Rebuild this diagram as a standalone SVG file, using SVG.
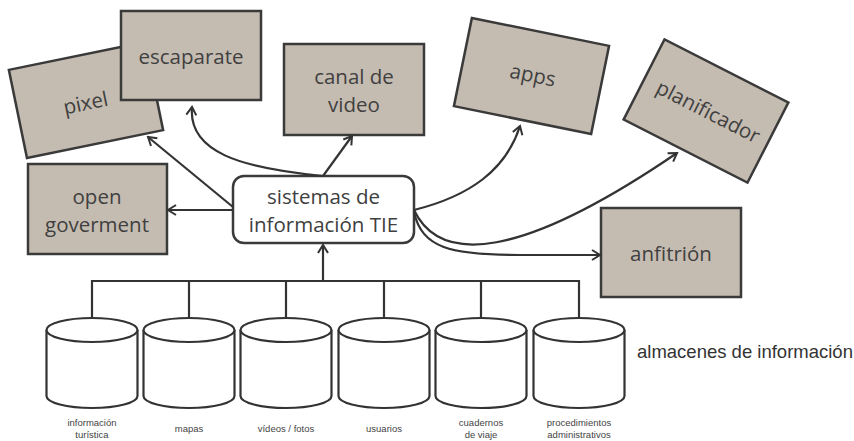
<svg xmlns="http://www.w3.org/2000/svg" width="854" height="441" viewBox="0 0 854 441">
<defs>
<style>
.box{fill:#c5bcb1;stroke:#3a3a3a;stroke-width:2.5}
.main{fill:#ffffff;stroke:#3a3a3a;stroke-width:2.5}
.t{font-family:"Open Sans","Noto Sans",sans-serif;font-size:20.5px;fill:#404040;text-anchor:middle}
.c{fill:none;stroke:#333333;stroke-width:2.2}
.cyl{fill:#ffffff;stroke:#333333;stroke-width:2.2}
.lbl{font-family:"Liberation Sans",Arial,sans-serif;font-size:9.5px;fill:#444444;text-anchor:middle}
.big{font-family:"Liberation Sans",Arial,sans-serif;font-size:18.5px;fill:#333333}
</style>
<marker id="ah" viewBox="0 0 12 12" refX="10" refY="6" markerWidth="12" markerHeight="12" markerUnits="userSpaceOnUse" orient="auto">
<path d="M2,1 L10,6 L2,11" fill="none" stroke="#333333" stroke-width="2"/>
</marker>
</defs>
<rect width="854" height="441" fill="#ffffff"/>

<g id="pixel">
<rect class="box" x="-69.5" y="-45" width="139" height="90" transform="translate(86,100) rotate(-11.6)"/>
<text class="t" transform="translate(87,110) rotate(-11.6)">pixel</text>
</g>
<g id="escaparate">
<rect class="box" x="121" y="11" width="140" height="89"/>
<text class="t" x="191" y="64">escaparate</text>
</g>
<g id="canal">
<rect class="box" x="284" y="44" width="140" height="91"/>
<text class="t" x="354" y="84">canal de</text>
<text class="t" x="354" y="112">video</text>
</g>
<g id="apps">
<rect class="box" x="-70" y="-45" width="140" height="90" transform="translate(531.5,76) rotate(11.5)"/>
<text class="t" transform="translate(531.5,82) rotate(11.5)">apps</text>
</g>
<g id="planificador">
<rect class="box" x="-69.5" y="-45" width="139" height="90" transform="translate(706,111) rotate(27)"/>
<text class="t" transform="translate(705,118) rotate(27)">planificador</text>
</g>
<g id="open">
<rect class="box" x="28" y="164" width="139" height="90"/>
<text class="t" x="97" y="204">open</text>
<text class="t" x="97" y="232">goverment</text>
</g>
<g id="anfitrion">
<rect class="box" x="601" y="208" width="140" height="89"/>
<text class="t" x="671" y="261">anfitrión</text>
</g>
<g id="sistemas">
<rect class="main" x="233" y="176" width="181" height="67" rx="11"/>
<text class="t" x="323.5" y="204">sistemas de</text>
<text class="t" x="323.5" y="232">información TIE</text>
</g>

<g id="connectors">
<path class="c" d="M233,207 L148,137" marker-end="url(#ah)"/>
<path class="c" d="M233,210 L168,210" marker-end="url(#ah)"/>
<path class="c" d="M323,176 C240,168 188,152 192,107" marker-end="url(#ah)"/>
<path class="c" d="M323,176 L352,136" marker-end="url(#ah)"/>
<path class="c" d="M414,210 C470,196 506,170 520,126" marker-end="url(#ah)"/>
<path class="c" d="M414,210 C440,265 520,260 677,153" marker-end="url(#ah)"/>
<path class="c" d="M414,212 C422,248 450,255 520,255 L600,255" marker-end="url(#ah)"/>
<path class="c" d="M323,281 L323,245" marker-end="url(#ah)"/>
<path class="c" d="M92,318 V281 H579 V318 M189,281 V318 M286,281 V318 M384,281 V318 M481,281 V318"/>
</g>

<g id="db1">
<path class="cyl" d="M46.5,330 V396 A45.5,12 0 0 0 137.5,396 V330"/>
<ellipse class="cyl" cx="92" cy="330" rx="45.5" ry="12"/>
<text class="lbl" x="92" y="426">información</text>
<text class="lbl" x="92" y="438">turística</text>
</g>
<g id="db2">
<path class="cyl" d="M143.5,330 V396 A45.5,12 0 0 0 234.5,396 V330"/>
<ellipse class="cyl" cx="189" cy="330" rx="45.5" ry="12"/>
<text class="lbl" x="189" y="432">mapas</text>
</g>
<g id="db3">
<path class="cyl" d="M240.5,330 V396 A45.5,12 0 0 0 331.5,396 V330"/>
<ellipse class="cyl" cx="286" cy="330" rx="45.5" ry="12"/>
<text class="lbl" x="286" y="432">vídeos / fotos</text>
</g>
<g id="db4">
<path class="cyl" d="M338.5,330 V396 A45.5,12 0 0 0 429.5,396 V330"/>
<ellipse class="cyl" cx="384" cy="330" rx="45.5" ry="12"/>
<text class="lbl" x="384" y="432">usuarios</text>
</g>
<g id="db5">
<path class="cyl" d="M435.5,330 V396 A45.5,12 0 0 0 526.5,396 V330"/>
<ellipse class="cyl" cx="481" cy="330" rx="45.5" ry="12"/>
<text class="lbl" x="481" y="426">cuadernos</text>
<text class="lbl" x="481" y="438">de viaje</text>
</g>
<g id="db6">
<path class="cyl" d="M533.5,330 V396 A45.5,12 0 0 0 624.5,396 V330"/>
<ellipse class="cyl" cx="579" cy="330" rx="45.5" ry="12"/>
<text class="lbl" x="579" y="426">procedimientos</text>
<text class="lbl" x="579" y="438">administrativos</text>
</g>
<text class="big" x="637" y="358">almacenes de información</text>
</svg>
